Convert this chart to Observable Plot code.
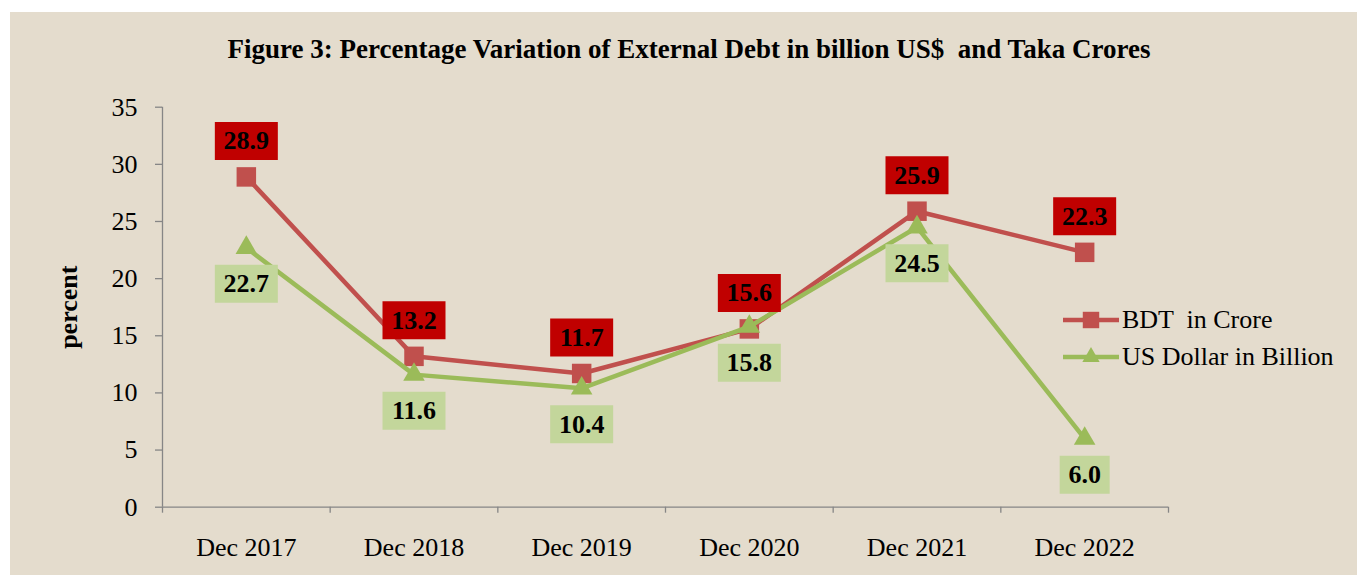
<!DOCTYPE html>
<html><head><meta charset="utf-8">
<script src="https://cdn.jsdelivr.net/npm/d3@7"></script>
<script src="https://cdn.jsdelivr.net/npm/@observablehq/plot@0.6"></script>
<style>
body{margin:0;background:#fff;}
#wrap{position:relative;width:1357px;height:575px;overflow:hidden;font-family:"Liberation Serif","Times New Roman",serif;color:#000;}
#bg{position:absolute;left:10px;top:12px;width:1347px;height:563px;background:#e4dccd;}
#title{position:absolute;left:0;top:34px;width:1378px;text-align:center;font-weight:bold;font-size:27px;line-height:30px;white-space:pre;}
#chart{position:absolute;left:0;top:0;}
#legend{position:absolute;left:1063px;top:301px;font-size:26px;}
#legend .row{display:flex;align-items:center;height:37px;white-space:pre;}
#legend svg{margin-right:2px;}
</style></head>
<body>
<div id="wrap">
  <div id="bg"></div>
  <div id="chart"></div>
  <div id="title">Figure 3: Percentage Variation of External Debt in billion US$  and Taka Crores</div>
  <div id="legend"></div>
</div>
<script>
const categories = ["Dec 2017", "Dec 2018", "Dec 2019", "Dec 2020", "Dec 2021", "Dec 2022"];
const bdtValues = [28.9, 13.2, 11.7, 15.6, 25.9, 22.3];
const usdValues = [22.7, 11.6, 10.4, 15.8, 24.5, 6.0];
const yTicks = [0, 5, 10, 15, 20, 25, 30, 35];
const seriesNames = ["BDT  in Crore", "US Dollar in Billion"];

const RED_LINE = "#C0504D", GREEN_LINE = "#9BBB59";
const RED_BOX = "#C00000", GREEN_BOX = "#C3D69B";
const AXIS = "#868686";

const rows = categories.map((c, i) => ({i, cat: c, bdt: bdtValues[i], usd: usdValues[i]}));
const boundaries = categories.map((_, i) => i - 0.5).concat([categories.length - 0.5]);

function boxSymbol(w, h) {
  return {draw(ctx) { ctx.rect(-w / 2, -h / 2, w, h); }};
}
function labelMarks(key, fill, dy) {
  const lens = Array.from(new Set(rows.map(d => d[key].toFixed(1).length)));
  const marks = lens.map(len => Plot.dot(rows.filter(d => d[key].toFixed(1).length === len), {
    x: "i", y: key, symbol: boxSymbol(len * 13 + 11, 38), fill, dy
  }));
  marks.push(Plot.text(rows, {
    x: "i", y: key, text: d => d[key].toFixed(1), dy, fontWeight: "bold", fontSize: 26, fill: "#000"
  }));
  return marks;
}

const chart = Plot.plot({
  width: 1357, height: 575,
  marginLeft: 162, marginRight: 189, marginTop: 106.7, marginBottom: 68.3,
  style: {background: "transparent", fontFamily: "'Liberation Serif', 'Times New Roman', serif", fontSize: "26px", color: "#000"},
  x: {domain: [-0.5, categories.length - 0.5], axis: null},
  y: {domain: [0, 35], axis: null},
  marks: [
    Plot.axisY({ticks: yTicks, tickSize: 7, tickPadding: 18, stroke: AXIS, fill: "#000", strokeWidth: 1.3, fontSize: 26, label: null}),
    Plot.axisX({ticks: boundaries, tickSize: 6, tickFormat: () => "", stroke: AXIS, strokeWidth: 1.3, label: null}),
    Plot.axisX({ticks: categories.map((_, i) => i), tickSize: 0, tickPadding: 30, tickFormat: i => categories[i], fill: "#000", fontSize: 26, label: null}),
    Plot.ruleY([0], {stroke: AXIS, strokeWidth: 1.3}),
    Plot.ruleX([-0.5], {y1: 0, y2: 35, stroke: AXIS, strokeWidth: 1.3}),
    Plot.text(["percent"], {frameAnchor: "left", dx: -94, rotate: -90, textAnchor: "middle", fontWeight: "bold", fontSize: 26, fill: "#000"}),
    Plot.line(rows, {x: "i", y: "bdt", stroke: RED_LINE, strokeWidth: 4.5}),
    Plot.dot(rows, {x: "i", y: "bdt", symbol: "square", r: 11, fill: RED_LINE}),
    Plot.line(rows, {x: "i", y: "usd", stroke: GREEN_LINE, strokeWidth: 4.5}),
    Plot.dot(rows, {x: "i", y: "usd", symbol: "triangle", r: 8, fill: GREEN_LINE}),
    ...labelMarks("bdt", RED_BOX, -36),
    ...labelMarks("usd", GREEN_BOX, 36)
  ]
});
document.getElementById("chart").appendChild(chart);

// legend
const legend = d3.select("#legend");
const legendItems = [
  {name: seriesNames[0], color: RED_LINE, symbol: d3.symbolSquare, size: 270},
  {name: seriesNames[1], color: GREEN_LINE, symbol: d3.symbolTriangle, size: 130}
];
legendItems.forEach(it => {
  const row = legend.append("div").attr("class", "row");
  const svg = row.append("svg").attr("width", 57).attr("height", 24);
  svg.append("line").attr("x1", 0).attr("x2", 56).attr("y1", 12).attr("y2", 12)
    .attr("stroke", it.color).attr("stroke-width", 4.5);
  svg.append("path").attr("transform", "translate(28,12)")
    .attr("d", d3.symbol(it.symbol, it.size)()).attr("fill", it.color);
  row.append("span").text(it.name);
});
</script>
</body></html>
